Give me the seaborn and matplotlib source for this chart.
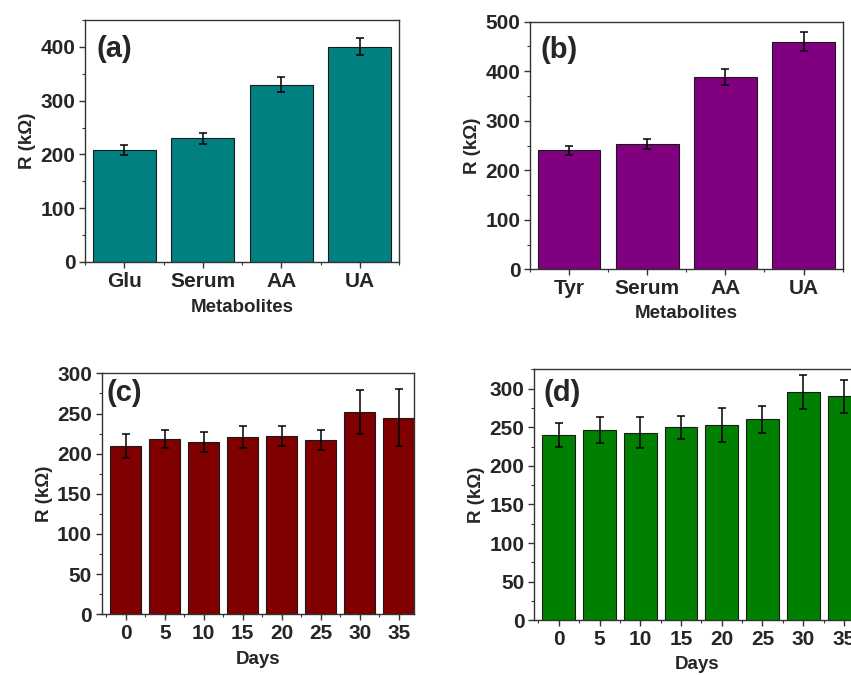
import matplotlib
matplotlib.use('Agg')
import matplotlib.pyplot as plt
import pandas as pd
import seaborn as sns
from matplotlib.ticker import AutoMinorLocator, FixedLocator, MultipleLocator

# panel (a)
metab_a = ['Glu', 'Serum', 'AA', 'UA']
r_a = [208, 230, 330, 400]
err_a = [9, 10, 14, 16]

# panel (b)
metab_b = ['Tyr', 'Serum', 'AA', 'UA']
r_b = [240, 253, 389, 460]
err_b = [10, 11, 16, 19]

# panels (c) and (d): stability over days
days = ['0', '5', '10', '15', '20', '25', '30', '35']
r_c = [210, 218, 215, 221, 222, 217, 252, 245]
err_c = [15, 11.5, 12.5, 14, 12, 12.5, 27, 36]
r_d = [240, 246, 243, 250, 253, 260, 295, 290]
err_d = [15.5, 17, 20.5, 15, 21.5, 18, 22, 21.5]

sns.set_style('white')
plt.rcParams['font.family'] = ['Liberation Sans', 'DejaVu Sans']
plt.rcParams['font.weight'] = 'bold'

fig = plt.figure(figsize=(8.51, 6.75), dpi=100)

panels = [
    # cats, values, errors, colour, xlabel, ylim, ymajor, rect, xlim, tag, tagpos, xlabelpad
    (metab_a, r_a, err_a, '#008080', 'Metabolites', (0, 450), 100,
     [0.0999, 0.6119, 0.369, 0.3585], (-0.5, 3.5), '(a)', (0.037, 0.88), 6),
    (metab_b, r_b, err_b, '#800080', 'Metabolites', (0, 500), 100,
     [0.6228, 0.601, 0.3674, 0.3668], (-0.5, 3.5), '(b)', (0.032, 0.886), 5),
    (days, r_c, err_c, '#800000', 'Days', (0, 300), 50,
     [0.1195, 0.0899, 0.3673, 0.357], (-0.62, 7.4), '(c)', (0.014, 0.917), 6),
    (days, r_d, err_d, '#008000', 'Days', (0, 325), 50,
     [0.6279, 0.081, 0.383, 0.3719], (-0.6, 7.4), '(d)', (0.028, 0.904), 5),
]

for cats, vals, errs, color, xlab, ylim, ymaj, rect, xlim, tag, tagpos, xpad in panels:
    ax = fig.add_axes(rect)
    df = pd.DataFrame({'cat': cats, 'R': vals})
    sns.barplot(data=df, x='cat', y='R', color=color, saturation=1, width=0.8,
                edgecolor='#1a1a1a', linewidth=0.8, errorbar=None, ax=ax)
    ax.errorbar(range(len(cats)), vals, yerr=errs, fmt='none', ecolor='black',
                elinewidth=1.1, capsize=3, capthick=1.1, zorder=5)
    ax.set_xlim(*xlim)
    ax.set_ylim(*ylim)
    ax.yaxis.set_major_locator(MultipleLocator(ymaj))
    ax.yaxis.set_minor_locator(AutoMinorLocator(2))
    ax.xaxis.set_minor_locator(FixedLocator([i + 0.5 for i in range(-1, len(cats))]))
    for s in ax.spines.values():
        s.set_color('#333333')
        s.set_linewidth(1.0)
    ax.tick_params(which='major', direction='out', length=4, width=1, color='#333333',
                   labelsize=15, pad=3, bottom=True, left=True)
    ax.tick_params(which='minor', direction='out', length=2.5, width=0.8, color='#333333',
                   bottom=True, left=True)
    for lab in ax.get_xticklabels() + ax.get_yticklabels():
        lab.set_fontweight('bold')
    ax.set_xlabel(xlab, fontsize=13.5, fontweight='bold', labelpad=xpad)
    ax.set_ylabel('R (k\u03a9)', fontsize=13.5, fontweight='bold', labelpad=3)
    ax.text(tagpos[0], tagpos[1], tag, transform=ax.transAxes, fontsize=21,
            fontweight='bold', ha='left', va='center')

fig.savefig('out.png', dpi=100)
